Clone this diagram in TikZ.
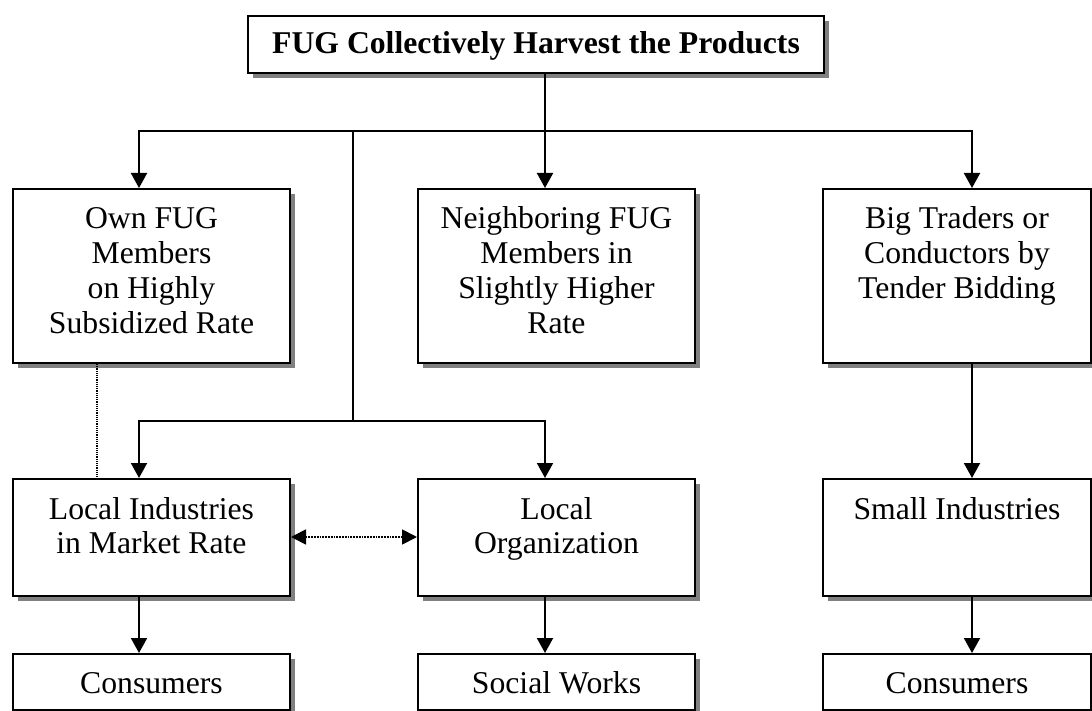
\documentclass[tikz,border=0pt]{standalone}
\usepackage{fontspec}
\setmainfont{Liberation Serif}
\usetikzlibrary{arrows.meta,shadows}

% box text: width, height, lines (first baseline fixed below the top edge)
\newcommand\boxtext[4][40pt]{\parbox[c][#3][t]{#2}{\centering\rule{0pt}{#1}#4}}

\tikzset{
  panel/.style={draw, line width=2pt, fill=white, inner sep=0pt, anchor=north west,
    font=\fontsize{31.7pt}{34.7pt}\selectfont,
    drop shadow={shadow xshift=5pt, shadow yshift=-5pt, fill=black!50, opacity=1}},
  link/.style={line width=2pt},
  arr/.style={line width=2pt, -{Triangle[width=16pt,length=15pt]}},
  dotlink/.style={line width=1.2pt, densely dotted},
  dblarr/.style={line width=1.8pt, densely dotted,
    {Triangle[width=15pt,length=15pt]}-{Triangle[width=15pt,length=15pt]}}
}

\begin{document}
\begin{tikzpicture}[x=1pt,y=-1pt]
\useasboundingbox (0,0) rectangle (1092,711);

% boxes
\node[panel] (top) at (247,15) {\boxtext[38pt]{576pt}{57pt}{\bfseries FUG Collectively Harvest the Products}};

\node[panel] (own) at (12,188) {\boxtext{277pt}{174pt}{Own FUG\\Members\\on Highly\\Subsidized Rate}};
\node[panel] (ngb) at (417,188) {\boxtext{277pt}{174pt}{Neighboring FUG\\Members in\\Slightly Higher\\Rate}};
\node[panel] (big) at (822,188) {\boxtext{268pt}{174pt}{Big Traders or\\Conductors by\\Tender Bidding}};

\node[panel] (lind) at (12,478) {\boxtext{277pt}{117pt}{Local Industries\\in Market Rate}};
\node[panel] (lorg) at (417,478) {\boxtext{277pt}{117pt}{Local\\Organization}};
\node[panel] (sind) at (822,478) {\boxtext{268pt}{117pt}{Small Industries}};

\node[panel] (cons1) at (12,653) {\boxtext[39pt]{277pt}{56pt}{Consumers}};
\node[panel] (soc) at (417,653) {\boxtext[39pt]{277pt}{56pt}{Social Works}};
\node[panel] (cons2) at (822,653) {\boxtext[39pt]{268pt}{56pt}{Consumers}};

% routing points
\coordinate (bus) at (545,131);
\coordinate (colL) at (139,131);
\coordinate (colR) at (972,131);
\coordinate (hubT) at (353,131);
\coordinate (hubB) at (353,421);
\coordinate (colM) at (545,421);
\coordinate (dotx) at (97,0);
\coordinate (dbly) at (0,537);

% upper distribution
\draw[link] (top.south -| bus) -- (bus);
\draw[arr] (bus) -| (own.north -| colL);
\draw[arr] (bus) -- (ngb.north -| bus);
\draw[arr] (bus) -| (big.north -| colR);

% lower distribution
\draw[link] (hubT) -- (hubB);
\draw[arr] (hubB) -| (lind.north -| colL);
\draw[arr] (hubB) -| (lorg.north -| colM);

\draw[arr] (big.south -| colR) -- (sind.north -| colR);

\draw[arr] (lind.south -| colL) -- (cons1.north -| colL);
\draw[arr] (lorg.south -| colM) -- (soc.north -| colM);
\draw[arr] (sind.south -| colR) -- (cons2.north -| colR);

% dotted links
\draw[dotlink] (own.south -| dotx) -- (lind.north -| dotx);
\draw[dblarr] (lind.east |- dbly) -- (lorg.west |- dbly);
\end{tikzpicture}
\end{document}
